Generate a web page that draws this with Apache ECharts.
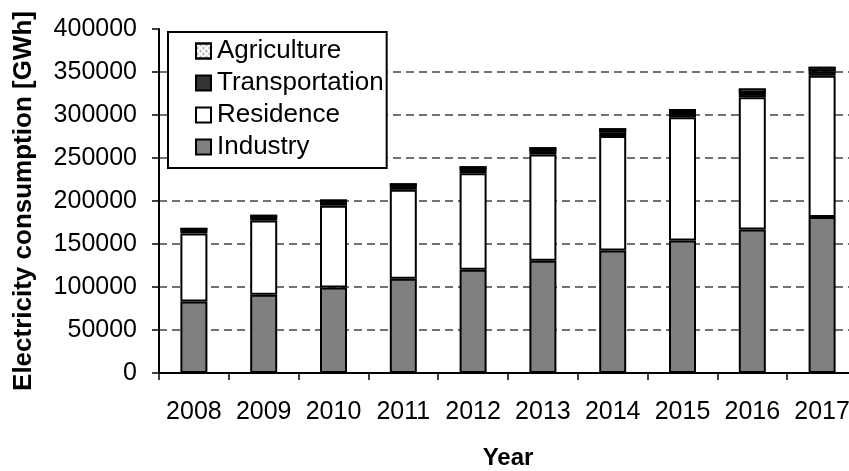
<!DOCTYPE html>
<html>
<head>
<meta charset="utf-8">
<script src="https://cdn.jsdelivr.net/npm/echarts@6/dist/echarts.min.js"></script>
<style>
html,body{margin:0;padding:0;background:#fff;}
#chart{width:849px;height:471px;}
</style>
</head>
<body>
<div id="chart"></div>
<script>
const years = ['2008','2009','2010','2011','2012','2013','2014','2015','2016','2017'];
const industry = [83000, 91000, 99500, 109500, 120000, 130500, 142500, 154000, 167000, 181500];
const residence = [79300, 86200, 95000, 103500, 112300, 123500, 133100, 143500, 153700, 164000];
const transportation = [3000, 3200, 3400, 3600, 3900, 4100, 4400, 4700, 5000, 5300];
const agriculture = [3500, 3600, 3800, 4000, 4200, 4400, 4600, 4800, 5000, 5200];
const yTicks = [0, 50000, 100000, 150000, 200000, 250000, 300000, 350000, 400000];

const FONT = "'Liberation Sans', Arial, sans-serif";
const chart = echarts.init(document.getElementById('chart'), null, {renderer: 'canvas'});

const barBase = {
  type: 'bar',
  stack: 'total',
  barWidth: 27,
  animation: false
};
const gridColors = yTicks.map((v, i) => i === yTicks.length - 1 ? 'rgba(0,0,0,0)' : '#444');

chart.setOption({
  backgroundColor: '#fff',
  animation: false,
  grid: {left: 159, right: -8, top: 29, bottom: 98, containLabel: false, outerBoundsMode: 'none'},
  legend: {
    orient: 'vertical',
    left: 168,
    top: 32,
    padding: [6, 3, 8, 27],
    itemWidth: 15,
    itemHeight: 15,
    itemGap: 6,
    borderColor: '#000',
    borderWidth: 2,
    backgroundColor: '#fff',
    icon: 'rect',
    data: ['Agriculture', 'Transportation', 'Residence', 'Industry'],
    textStyle: {fontFamily: FONT, fontSize: 26, color: '#000', lineHeight: 25, padding: [0, 0, 0, 1]}
  },
  xAxis: {
    type: 'category',
    data: years,
    boundaryGap: true,
    name: 'Year',
    nameLocation: 'middle',
    nameGap: 73,
    nameTextStyle: {fontFamily: FONT, fontSize: 24, fontWeight: 'bold', color: '#000'},
    axisLine: {lineStyle: {color: '#000', width: 2}},
    axisTick: {show: true, length: 7, interval: 0, lineStyle: {color: '#000', width: 1.5}, alignWithLabel: false},
    axisLabel: {fontFamily: FONT, fontSize: 25, color: '#000', margin: 27, interval: 0, hideOverlap: false},
    splitLine: {show: false}
  },
  yAxis: {
    type: 'value',
    min: 0,
    max: 400000,
    interval: 50000,
    name: 'Electricity consumption [GWh]',
    nameLocation: 'middle',
    nameGap: 122,
    nameRotate: 90,
    nameTextStyle: {fontFamily: FONT, fontSize: 26, fontWeight: 'bold', color: '#000'},
    axisLine: {show: true, lineStyle: {color: '#000', width: 2}},
    axisTick: {show: true, length: 7, lineStyle: {color: '#000', width: 1.5}},
    axisLabel: {fontFamily: FONT, fontSize: 25, color: '#000', margin: 22, formatter: function (v) { return String(v); }},
    splitLine: {show: true, lineStyle: {color: gridColors, width: 1.5, type: [8, 5]}}
  },
  series: [
    Object.assign({}, barBase, {
      name: 'Industry',
      data: industry,
      itemStyle: {color: '#808080', borderColor: '#000', borderWidth: 2}
    }),
    Object.assign({}, barBase, {
      name: 'Residence',
      data: residence,
      itemStyle: {color: '#ffffff', borderColor: '#000', borderWidth: 2}
    }),
    Object.assign({}, barBase, {
      name: 'Transportation',
      data: transportation,
      itemStyle: {color: '#333333', borderColor: '#000', borderWidth: 2}
    }),
    Object.assign({}, barBase, {
      name: 'Agriculture',
      data: agriculture,
      itemStyle: {
        color: '#ffffff', borderColor: '#000', borderWidth: 2,
        decal: {symbol: 'rect', symbolSize: 0.6, dashArrayX: [[3, 3], [0, 3, 3, 0]], dashArrayY: [3, 0], color: '#888', rotation: 0}
      }
    })
  ]
});
</script>
</body>
</html>
